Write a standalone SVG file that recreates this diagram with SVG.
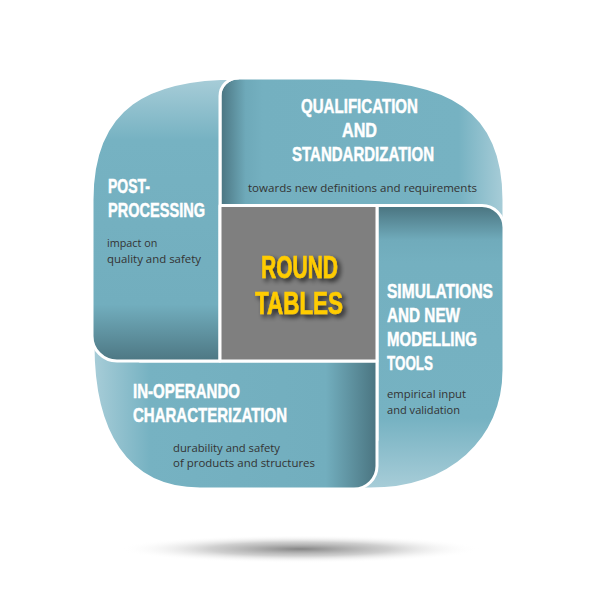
<svg xmlns="http://www.w3.org/2000/svg" width="600" height="600" viewBox="0 0 600 600">
<defs>
<linearGradient id="gTop" gradientUnits="userSpaceOnUse" x1="220" y1="0" x2="504" y2="0">
<stop offset="0" stop-color="#4a7480"/><stop offset="0.09" stop-color="#6ea9b9"/><stop offset="0.15" stop-color="#74b0c0"/><stop offset="0.84" stop-color="#76b2c2"/><stop offset="1" stop-color="#a8cdd8"/>
</linearGradient>
<linearGradient id="gLeft" gradientUnits="userSpaceOnUse" x1="0" y1="78" x2="0" y2="361">
<stop offset="0" stop-color="#a8cdd8"/><stop offset="0.22" stop-color="#76b2c2"/><stop offset="0.8" stop-color="#72aebe"/><stop offset="1" stop-color="#4d7783"/>
</linearGradient>
<linearGradient id="gRight" gradientUnits="userSpaceOnUse" x1="0" y1="206" x2="0" y2="489">
<stop offset="0" stop-color="#4a7480"/><stop offset="0.12" stop-color="#70abbb"/><stop offset="0.2" stop-color="#74b0c0"/><stop offset="0.75" stop-color="#76b2c2"/><stop offset="1" stop-color="#a8cdd8"/>
</linearGradient>
<linearGradient id="gBottom" gradientUnits="userSpaceOnUse" x1="93" y1="0" x2="377" y2="0">
<stop offset="0" stop-color="#a8cdd8"/><stop offset="0.2" stop-color="#76b2c2"/><stop offset="0.82" stop-color="#72aebe"/><stop offset="1" stop-color="#4a7480"/>
</linearGradient>
<radialGradient id="gShadow" cx="0.5" cy="0.5" r="0.5">
<stop offset="0" stop-color="#858585" stop-opacity="1"/><stop offset="0.5" stop-color="#b0b0b0" stop-opacity="0.6"/><stop offset="1" stop-color="#ffffff" stop-opacity="0"/>
</radialGradient>
<filter id="txtShadow" x="-20%" y="-20%" width="140%" height="160%">
<feDropShadow dx="3" dy="3" stdDeviation="2.5" flood-color="#000" flood-opacity="0.75"/>
</filter>
</defs>
<style>
.piece{stroke:#fff;stroke-width:3;stroke-linejoin:round}
.title{font-family:"Liberation Sans",Arial,sans-serif;font-weight:bold;fill:#fff;font-size:21px;stroke:#fff;stroke-width:0.5}
.body{font-family:"Open Sans","Noto Sans",sans-serif;font-size:10.8px;fill:#333}
.rt{font-family:"Liberation Sans",Arial,sans-serif;font-weight:bold;fill:#ffcc00;font-size:32px;stroke:#ffcc00;stroke-width:0.6}
</style>
<rect width="600" height="600" fill="#fff"/>
<ellipse cx="300" cy="549" rx="180" ry="14" fill="url(#gShadow)"/>

<g id="qualification">
<path class="piece" fill="url(#gTop)" d="M220,205.5 L220,96 A18,18 0 0 1 238,78 L340,78 C450,78 504,110 504,200 L504,250 L377,250 L377,205.5 Z"/>
<text class="title" x="301" y="113" textLength="117" lengthAdjust="spacingAndGlyphs">QUALIFICATION</text>
<text class="title" x="342" y="137" textLength="35" lengthAdjust="spacingAndGlyphs">AND</text>
<text class="title" x="292" y="161" textLength="142" lengthAdjust="spacingAndGlyphs">STANDARDIZATION</text>
<text class="body" x="248" y="192" textLength="229" lengthAdjust="spacingAndGlyphs">towards new definitions and requirements</text>
</g>

<g id="simulations">
<path class="piece" fill="url(#gRight)" d="M377,205.5 L482,205.5 A22,22 0 0 1 504,227.5 L504,370 C504,440 450,489 370,489 L340,489 L340,440 L377,440 Z"/>
<text class="title" x="387" y="298" textLength="106" lengthAdjust="spacingAndGlyphs">SIMULATIONS</text>
<text class="title" x="387" y="322" textLength="73" lengthAdjust="spacingAndGlyphs">AND NEW</text>
<text class="title" x="387" y="346" textLength="90" lengthAdjust="spacingAndGlyphs">MODELLING</text>
<text class="title" x="387" y="370" textLength="46" lengthAdjust="spacingAndGlyphs">TOOLS</text>
<text class="body" x="387" y="398" textLength="79" lengthAdjust="spacingAndGlyphs">empirical input</text>
<text class="body" x="387" y="414" textLength="73" lengthAdjust="spacingAndGlyphs">and validation</text>
</g>

<g id="in-operando">
<path class="piece" fill="url(#gBottom)" d="M93,325 L140,325 L140,361 L377,361 L377,466 A23,23 0 0 1 354,489 L200,489 C125,489 93,430 93,345 Z"/>
<text class="title" x="133" y="398" textLength="107" lengthAdjust="spacingAndGlyphs">IN-OPERANDO</text>
<text class="title" x="133" y="422" textLength="154" lengthAdjust="spacingAndGlyphs">CHARACTERIZATION</text>
<text class="body" x="173" y="452" textLength="107" lengthAdjust="spacingAndGlyphs">durability and safety</text>
<text class="body" x="173" y="467" textLength="142" lengthAdjust="spacingAndGlyphs">of products and structures</text>
</g>

<g id="post-processing">
<path class="piece" fill="url(#gLeft)" d="M220,361 L220,96 A18,18 0 0 1 238,78 C150,78 92,105 92,200 L92,336 A25,25 0 0 0 117,361 Z"/>
<text class="title" x="108" y="193" textLength="42" lengthAdjust="spacingAndGlyphs">POST-</text>
<text class="title" x="108" y="217" textLength="97" lengthAdjust="spacingAndGlyphs">PROCESSING</text>
<text class="body" x="107" y="247">impact on</text>
<text class="body" x="107" y="263" textLength="94" lengthAdjust="spacingAndGlyphs">quality and safety</text>
</g>

<g id="round-tables">
<rect class="piece" x="220" y="205.5" width="157" height="155.5" fill="#7f7f7f"/>
<g filter="url(#txtShadow)">
<text class="rt" x="261" y="277.5" textLength="77" lengthAdjust="spacingAndGlyphs">ROUND</text>
<text class="rt" x="255" y="313.5" textLength="88" lengthAdjust="spacingAndGlyphs">TABLES</text>
</g>
</g>
</svg>
